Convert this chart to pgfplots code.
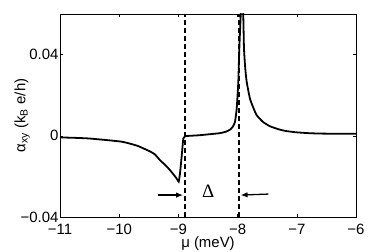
\documentclass[border=0pt]{standalone}
\usepackage{fontspec}
\setmainfont{Liberation Sans}
\newfontfamily\seriffont{Liberation Serif}
\usepackage{pgfplots}
\pgfplotsset{compat=1.18}
\usetikzlibrary{arrows.meta}
\begin{document}
\begin{tikzpicture}[font=\fontsize{15}{17}\selectfont]
\begin{axis}[
  at={(0,0)}, anchor=south west,
  scale only axis, width=296bp, height=203bp,
  xmin=-11, xmax=-6, ymin=-0.04, ymax=0.06,
  scaled ticks=false,
  xtick={-11,-10,-9,-8,-7,-6},
  xticklabels={−11,−10,−9,−8,−7,−6},
  ytick={-0.04,0,0.04},
  yticklabels={−0.04,0,0.04},
  tick align=inside, major tick length=3bp,
  tick style={black, line width=0.4pt},
  axis line style={black, line width=0.7pt},
  every tick label/.append style={font=\fontsize{15}{17}\selectfont},
  xticklabel style={anchor=base, yshift=-17bp},
  yticklabel style={anchor=east, xshift=2bp},
  xlabel={μ (meV)}, ylabel={α\textsubscript{xy} (k\textsubscript{B} e/h)},
  every axis x label/.style={at={(axis description cs:0.5,-0.133)}, anchor=center, font=\fontsize{15}{17}\selectfont},
  every axis y label/.style={at={(axis description cs:-0.128,0.5)}, anchor=center, rotate=90, font=\fontsize{15}{17}\selectfont},
  clip=true,
]
\addplot[black, line width=1.8pt, smooth, tension=0.3] coordinates {
(-11,-0.0008) (-10.75,-0.0010) (-10.52,-0.0013) (-10.25,-0.0020) (-9.958,-0.0029)
(-9.8,-0.0040) (-9.677,-0.0051) (-9.48,-0.0077) (-9.395,-0.0092) (-9.311,-0.0120)
(-9.23,-0.0142) (-9.142,-0.0169) (-9.057,-0.0200) (-9.02,-0.0215) (-8.995,-0.0226)
(-8.975,-0.0190) (-8.956,-0.0136) (-8.935,-0.0070) (-8.917,-0.0013) (-8.889,-0.0002)
(-8.8,0.0000) (-8.635,0.0003) (-8.466,0.0008) (-8.297,0.0013) (-8.20,0.0020)
(-8.128,0.0030) (-8.08,0.0045) (-8.044,0.0069) (-8.015,0.0134) (-7.988,0.0265)
(-7.971,0.0429) (-7.948,0.0592) (-7.934,0.0700) (-7.918,0.0680) (-7.904,0.0592)
(-7.892,0.0429) (-7.87,0.0330) (-7.846,0.0265) (-7.791,0.0183) (-7.73,0.0135)
(-7.677,0.0101) (-7.57,0.0068) (-7.453,0.0047) (-7.284,0.0030) (-7.171,0.0023)
(-7.0,0.0017) (-6.8,0.0013) (-6.608,0.0011) (-6.3,0.0010) (-6.0,0.0010)
};
\addplot[black, line width=1.7pt, dash pattern=on 5bp off 3bp] coordinates {(-8.89,-0.04) (-8.89,0.06)};
\addplot[black, line width=1.7pt, dash pattern=on 5bp off 3bp] coordinates {(-7.98,-0.04) (-7.98,0.06)};
\draw[-{Latex[length=7bp,width=5.5bp]}, line width=1.3pt] (axis cs:-9.34,-0.0292) -- (axis cs:-8.92,-0.0292);
\draw[-{Latex[length=7bp,width=5.5bp]}, line width=1.3pt] (axis cs:-7.48,-0.0287) -- (axis cs:-7.95,-0.0292);
\node[font=\seriffont\fontsize{19}{21}\selectfont] at (axis cs:-8.495,-0.0271) {Δ};
\end{axis}
\pgfresetboundingbox
\path[use as bounding box] (-60bp,-35bp) rectangle (322bp,217bp);
\end{tikzpicture}
\end{document}
